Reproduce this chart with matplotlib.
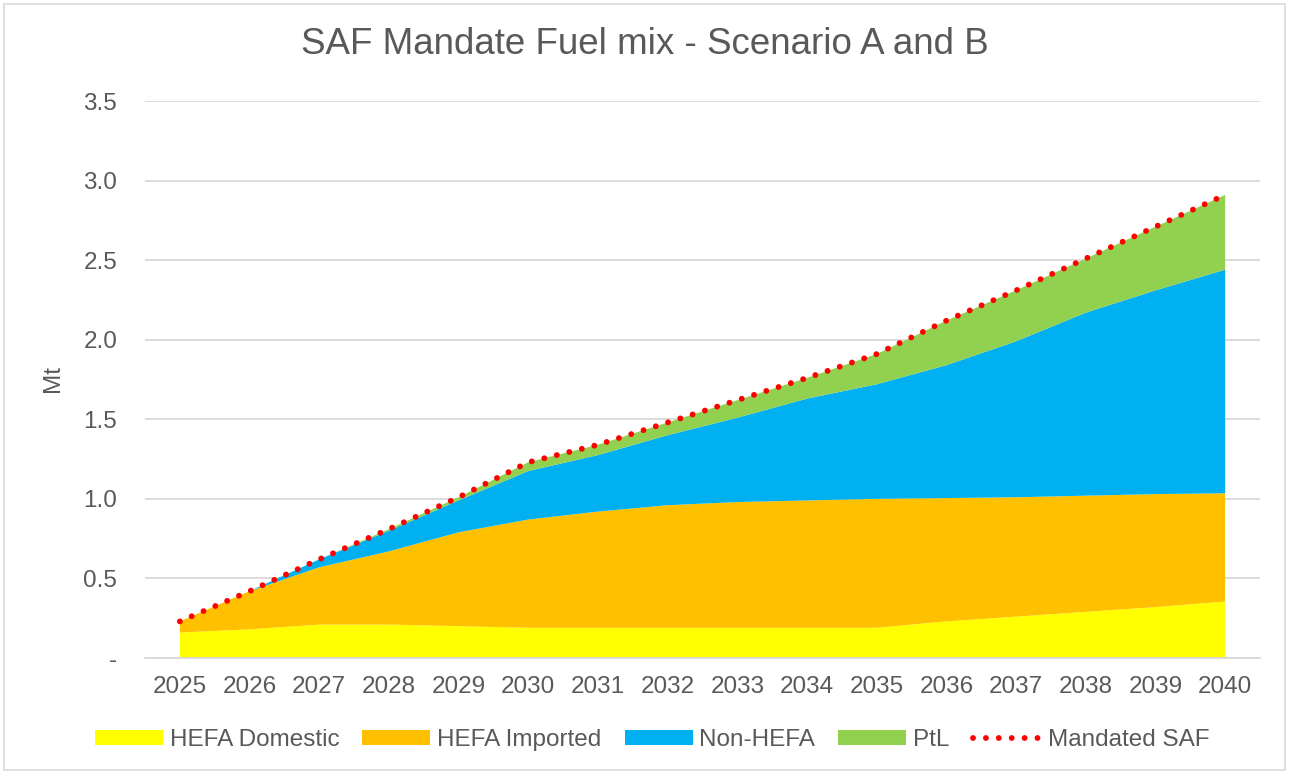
import matplotlib.pyplot as plt
import numpy as np
from matplotlib.patches import Rectangle
from matplotlib.lines import Line2D

plt.rcParams["font.family"] = ["Liberation Sans", "DejaVu Sans"]

years = list(range(2025, 2041))
hefa_domestic = [0.16, 0.18, 0.21, 0.21, 0.20, 0.19, 0.19, 0.19, 0.19, 0.19, 0.19, 0.23, 0.26, 0.29, 0.32, 0.355]
hefa_imported = [0.07, 0.24, 0.36, 0.46, 0.59, 0.68, 0.73, 0.77, 0.79, 0.80, 0.81, 0.775, 0.75, 0.73, 0.71, 0.68]
non_hefa = [0.0, 0.0, 0.05, 0.13, 0.20, 0.305, 0.355, 0.44, 0.53, 0.64, 0.72, 0.835, 0.98, 1.15, 1.28, 1.405]
ptl = [0.0, 0.0, 0.0, 0.01, 0.02, 0.055, 0.065, 0.08, 0.11, 0.13, 0.19, 0.28, 0.32, 0.34, 0.40, 0.47]
mandated = [0.23, 0.42, 0.62, 0.81, 1.01, 1.23, 1.34, 1.48, 1.62, 1.76, 1.91, 2.12, 2.31, 2.51, 2.71, 2.91]

series_names = ["HEFA Domestic", "HEFA Imported", "Non-HEFA", "PtL"]
colors = ["#FFFF00", "#FFC000", "#00B0F0", "#92D050"]
text_col = "#595959"
dot_style = (0, (0.01, 2.2))

fig = plt.figure(figsize=(12.89, 7.74), dpi=100)
ax = fig.add_axes([145 / 1289, 1 - 658 / 774, 1115 / 1289, 557 / 774])

ax.stackplot(years, hefa_domestic, hefa_imported, non_hefa, ptl,
             colors=colors, labels=series_names, linewidth=0)
ax.plot(years, mandated, color="#FF0000", linewidth=4.2,
        linestyle=dot_style, dash_capstyle="round", label="Mandated SAF")

ax.set_xlim(2024.5, 2040.5)
ax.set_ylim(0, 3.5)
ax.set_xticks(years)
ax.set_xticklabels([str(y) for y in years])
yticks = np.arange(0, 3.51, 0.5)
ax.set_yticks(yticks)
ax.set_yticklabels(["-"] + [f"{v:.1f}" for v in yticks[1:]])
ax.tick_params(axis="both", length=0, labelsize=17.5, labelcolor=text_col)
ax.tick_params(axis="x", pad=13)
ax.tick_params(axis="y", pad=20)
ax.grid(axis="y", color="#D9D9D9", linewidth=1.3)
ax.set_axisbelow(True)
for s in ["top", "right", "left"]:
    ax.spines[s].set_visible(False)
ax.spines["bottom"].set_color("#D9D9D9")
ax.spines["bottom"].set_linewidth(1.3)

fig.text(53 / 1289, 1 - 378 / 774, "Mt", rotation=90, ha="center", va="center",
         fontsize=17.5, color=text_col)
fig.text(0.5, 1 - 45 / 774, "SAF Mandate Fuel mix - Scenario A and B",
         ha="center", va="center", fontsize=26.5, color=text_col)

handles = [Rectangle((0, 0), 1, 1, facecolor=c, edgecolor="none") for c in colors]
handles.append(Line2D([0], [0], color="#FF0000", linewidth=4.2,
                      linestyle=dot_style, dash_capstyle="round"))
fig.legend(handles, series_names + ["Mandated SAF"], loc="center",
           bbox_to_anchor=(652 / 1289, 1 - 740 / 774), ncol=5, frameon=False,
           fontsize=17.5, labelcolor=text_col, handlelength=2.8, handleheight=0.62,
           columnspacing=0.95, handletextpad=0.28)

# light border round the whole chart
fig.patches.append(Rectangle((4 / 1289, 4 / 774), 1 - 8 / 1289, 1 - 8 / 774,
                             transform=fig.transFigure, fill=False,
                             edgecolor="#D9D9D9", linewidth=1.2))

fig.savefig("out.png", dpi=100)
